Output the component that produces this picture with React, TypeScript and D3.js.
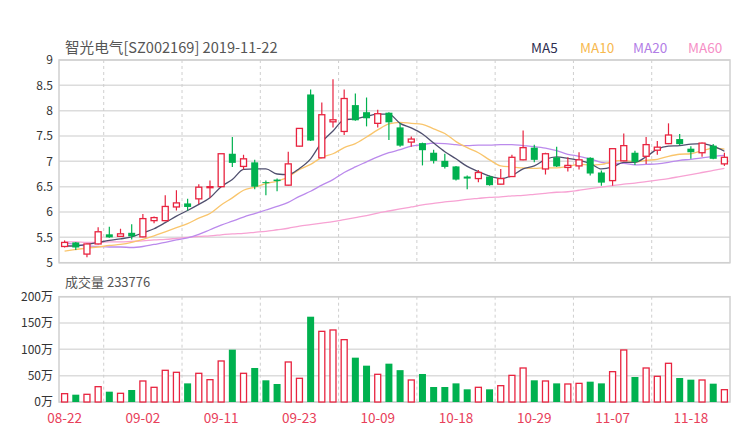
import React from 'react';
import * as d3 from 'd3';

// trading days shown in the chart (MM-DD)
const dates = [
  '08-22', '08-23', '08-26', '08-27', '08-28', '08-29', '08-30',
  '09-02', '09-03', '09-04', '09-05', '09-06', '09-09', '09-10', '09-11', '09-12',
  '09-16', '09-17', '09-18', '09-19', '09-20', '09-23', '09-24', '09-25', '09-26', '09-27', '09-30',
  '10-08', '10-09', '10-10', '10-11', '10-14', '10-15', '10-16', '10-17', '10-18',
  '10-21', '10-22', '10-23', '10-24', '10-25', '10-28', '10-29', '10-30', '10-31',
  '11-01', '11-04', '11-05', '11-06', '11-07', '11-08', '11-11', '11-12', '11-13', '11-14', '11-15',
  '11-18', '11-19', '11-20', '11-21',
];
const tickDates = ['08-22', '09-02', '09-11', '09-23', '10-09', '10-18', '10-29', '11-07', '11-18'];

const opens = [
  5.32, 5.40, 5.17, 5.37, 5.56, 5.52, 5.59, 5.51, 5.83, 5.83,
  6.10, 6.17, 6.26, 6.48, 6.50, 7.15, 6.90, 6.98, 6.59, 6.64,
  6.53, 7.30, 8.32, 7.07, 7.78, 7.59, 8.11, 7.97, 7.75, 7.96,
  7.67, 7.38, 7.36, 7.17, 7.01, 6.90, 6.70, 6.66, 6.70, 6.55,
  6.70, 7.03, 7.27, 6.85, 7.08, 6.88, 6.91, 7.07, 6.78, 6.62,
  7.01, 7.17, 7.10, 7.22, 7.35, 7.44, 7.25, 7.17, 7.31, 6.95,
];
const highs = [
  5.44, 5.41, 5.38, 5.70, 5.71, 5.67, 5.76, 5.96, 5.91, 6.33,
  6.43, 6.26, 6.55, 6.62, 7.15, 7.48, 7.13, 7.03, 6.62, 6.66,
  7.19, 7.65, 8.42, 8.16, 8.62, 8.42, 8.34, 8.26, 8.02, 7.97,
  7.75, 7.49, 7.37, 7.23, 7.15, 6.91, 6.72, 6.83, 6.72, 6.85,
  7.13, 7.61, 7.33, 7.17, 7.29, 7.08, 7.18, 7.08, 6.82, 7.25,
  7.55, 7.21, 7.48, 7.40, 7.75, 7.54, 7.30, 7.37, 7.34, 7.17,
];
const lows = [
  5.30, 5.25, 5.11, 5.36, 5.49, 5.51, 5.46, 5.50, 5.78, 5.82,
  6.03, 6.03, 6.16, 6.28, 6.50, 6.89, 6.84, 6.45, 6.33, 6.41,
  6.52, 7.29, 7.40, 7.06, 7.67, 7.52, 7.80, 7.69, 7.67, 7.42,
  7.29, 7.29, 6.92, 6.96, 6.86, 6.62, 6.45, 6.59, 6.52, 6.54,
  6.69, 7.02, 6.98, 6.74, 6.89, 6.80, 6.84, 6.72, 6.52, 6.52,
  7.00, 6.93, 6.95, 7.13, 7.34, 7.32, 7.05, 7.09, 7.04, 6.91,
];
const closes = [
  5.40, 5.30, 5.37, 5.61, 5.50, 5.57, 5.52, 5.87, 5.89, 6.11,
  6.18, 6.10, 6.49, 6.50, 7.15, 6.97, 7.05, 6.50, 6.57, 6.61,
  6.95, 7.65, 7.41, 7.92, 7.82, 8.24, 7.81, 7.85, 7.94, 7.77,
  7.31, 7.44, 7.22, 7.01, 6.89, 6.64, 6.66, 6.78, 6.53, 6.66,
  7.08, 7.27, 7.03, 7.15, 6.90, 6.92, 7.03, 6.76, 6.58, 7.25,
  7.31, 6.99, 7.33, 7.28, 7.52, 7.34, 7.18, 7.36, 7.05, 7.08,
];
// volume in 万 (10k)
const volumes = [
  15.8, 13.9, 14.6, 29.1, 19.6, 16.5, 22.8, 39.9, 27.9, 60.2,
  56.4, 35.4, 54.5, 42.4, 77.9, 99.4, 54.5, 64.6, 41.2, 34.2,
  76.0, 45.0, 162.0, 134.2, 136.8, 118.4, 84.2, 69.0, 52.6, 72.8,
  60.5, 41.8, 53.2, 28.5, 28.5, 35.4, 24.1, 27.9, 24.1, 31.0,
  50.6, 64.6, 41.2, 39.9, 35.4, 34.2, 35.4, 38.6, 35.4, 57.6,
  98.8, 47.5, 64.6, 48.8, 73.5, 45.6, 42.4, 41.8, 34.8, 23.4,
];

const ma5 = [
  5.33, 5.33, 5.36, 5.40, 5.44, 5.47, 5.51, 5.59, 5.67, 5.79,
  5.92, 6.03, 6.15, 6.28, 6.50, 6.64, 6.84, 6.85, 6.85, 6.75,
  6.74, 6.86, 7.05, 7.38, 7.60, 7.82, 7.84, 7.89, 7.93, 7.93,
  7.75, 7.66, 7.54, 7.36, 7.19, 7.05, 6.90, 6.80, 6.71, 6.66,
  6.72, 6.85, 6.91, 7.04, 7.09, 7.06, 7.02, 6.96, 6.85, 6.89,
  6.98, 6.98, 7.09, 7.24, 7.30, 7.31, 7.34, 7.35, 7.30, 7.20,
];
const ma10 = [
  5.23, 5.26, 5.29, 5.31, 5.34, 5.36, 5.40, 5.46, 5.53, 5.61,
  5.69, 5.77, 5.88, 5.97, 6.14, 6.28, 6.43, 6.49, 6.56, 6.61,
  6.69, 6.84, 6.94, 7.08, 7.15, 7.27, 7.35, 7.48, 7.62, 7.74,
  7.77, 7.75, 7.73, 7.64, 7.55, 7.39, 7.27, 7.17, 7.03, 6.91,
  6.89, 6.87, 6.86, 6.87, 6.87, 6.90, 6.94, 6.93, 6.94, 7.00,
  7.02, 6.99, 7.02, 7.04, 7.10, 7.14, 7.15, 7.21, 7.26, 7.24,
];
const ma20 = [
  5.39, 5.36, 5.33, 5.32, 5.31, 5.31, 5.30, 5.32, 5.36, 5.40,
  5.45, 5.49, 5.56, 5.65, 5.74, 5.82, 5.90, 5.97, 6.04, 6.11,
  6.19, 6.31, 6.41, 6.53, 6.64, 6.78, 6.89, 6.99, 7.09, 7.17,
  7.23, 7.30, 7.33, 7.36, 7.35, 7.33, 7.31, 7.32, 7.32, 7.33,
  7.33, 7.31, 7.29, 7.26, 7.21, 7.14, 7.10, 7.05, 6.98, 6.96,
  6.96, 6.93, 6.94, 6.95, 6.98, 7.02, 7.04, 7.07, 7.10, 7.12,
];
const ma60 = [
  5.41, 5.41, 5.40, 5.40, 5.41, 5.41, 5.42, 5.43, 5.45, 5.46,
  5.48, 5.50, 5.52, 5.53, 5.55, 5.57, 5.58, 5.60, 5.62, 5.65,
  5.68, 5.72, 5.75, 5.78, 5.81, 5.85, 5.89, 5.93, 5.98, 6.02,
  6.06, 6.10, 6.14, 6.17, 6.20, 6.22, 6.25, 6.27, 6.29, 6.30,
  6.32, 6.33, 6.35, 6.37, 6.39, 6.40, 6.43, 6.46, 6.49, 6.52,
  6.55, 6.57, 6.60, 6.63, 6.66, 6.70, 6.74, 6.78, 6.82, 6.86,
];

const priceTicks = [5, 5.5, 6, 6.5, 7, 7.5, 8, 8.5, 9];
const volTicks = [0, 50, 100, 150, 200];

const UP = '#e8233f';
const DOWN = '#00b14f';
const GRID = '#dcdcdc';
const FONT = '"Noto Sans CJK SC", "Noto Sans", sans-serif';

const maSeries = [
  { name: 'MA5', values: ma5, color: '#4f4f6e', legend: '#2e2e50', lx: 531 },
  { name: 'MA10', values: ma10, color: '#f9c56c', legend: '#f7b94e', lx: 580 },
  { name: 'MA20', values: ma20, color: '#bb8aec', legend: '#b27ee6', lx: 633 },
  { name: 'MA60', values: ma60, color: '#f7a2d3', legend: '#f68fc6', lx: 688 },
];

const left = 59;
const right = 730;

export default function App() {
  const x = d3.scaleBand<string>().domain(dates).range([left, right]).padding(0);
  const bw = x.bandwidth();
  const cx = (i: number) => (x(dates[i]) as number) + bw / 2;
  const y = d3.scaleLinear().domain([5, 9]).range([262.7, 60]);
  const yv = d3.scaleLinear().domain([0, 200]).range([402, 296.7]);
  const bodyW = 7;

  const line = d3.line<number>()
    .x((_, i) => cx(i))
    .y(d => y(d))
    .curve(d3.curveMonotoneX);

  // dashed verticals sit half way between the date labels
  const vGrid = tickDates
    .map(d => dates.indexOf(d) + 4)
    .filter(i => i < dates.length)
    .map(i => x(dates[i]) as number);

  const lastVol = 233776;

  return (
    <div style={{ position: 'absolute', left: 0, top: 0 }}>
      <svg width={740} height={440} style={{ display: 'block', fontFamily: FONT }}>
        <rect width={740} height={440} fill="#fff" />

        {/* header */}
        <text x={65} y={53} fontSize={14.6} fill="#555">智光电气[SZ002169] 2019-11-22</text>
        {maSeries.map(s => (
          <text key={s.name} x={s.lx} y={53} fontSize={13.5} fill={s.legend}>{s.name}</text>
        ))}

        {/* price panel grid */}
        {priceTicks.map(t => (
          <g key={'p' + t}>
            <line x1={left} x2={right} y1={y(t)} y2={y(t)} stroke={GRID} strokeWidth={1.5} />
            <text x={53} y={y(t)} dy="0.35em" textAnchor="end" fontSize={12} fill="#333">{String(t)}</text>
          </g>
        ))}
        {vGrid.map((gx, i) => (
          <line key={'vg' + i} x1={gx} x2={gx} y1={y(9)} y2={y(5)} stroke="#cfcfcf" strokeDasharray="3,3" />
        ))}
        <rect x={left} y={y(9)} width={right - left} height={y(5) - y(9)} fill="none" stroke="#d0d0d0" strokeWidth={1.5} />

        {/* moving averages */}
        {maSeries.slice().reverse().map(s => (
          <path key={s.name} d={line(s.values) || ''} fill="none" stroke={s.color} strokeWidth={1.3} />
        ))}

        {/* candles */}
        {dates.map((d, i) => {
          const up = closes[i] >= opens[i];
          const c = cx(i);
          const top = y(Math.max(opens[i], closes[i]));
          const bot = y(Math.min(opens[i], closes[i]));
          const h = Math.max(1, bot - top);
          if (up) {
            return (
              <g key={'c' + d}>
                <line x1={c} x2={c} y1={y(highs[i])} y2={top} stroke={UP} strokeWidth={1.2} />
                <line x1={c} x2={c} y1={top + h} y2={y(lows[i])} stroke={UP} strokeWidth={1.2} />
                <rect x={c - bodyW / 2 + 0.5} y={top} width={bodyW - 1} height={h} fill="#fff" stroke={UP} strokeWidth={1.3} />
              </g>
            );
          }
          return (
            <g key={'c' + d}>
              <line x1={c} x2={c} y1={y(highs[i])} y2={y(lows[i])} stroke={DOWN} strokeWidth={1.2} />
              <rect x={c - bodyW / 2} y={top} width={bodyW} height={h} fill={DOWN} />
            </g>
          );
        })}

        {/* volume panel */}
        <text x={65} y={287} fontSize={13} fill="#555">成交量 {lastVol}</text>
        {volTicks.map(t => (
          <g key={'v' + t}>
            <line x1={left} x2={right} y1={yv(t)} y2={yv(t)} stroke={GRID} strokeWidth={1.5} />
            <text x={53} y={yv(t)} dy="0.35em" textAnchor="end" fontSize={12} fill="#333">{t}万</text>
          </g>
        ))}
        {vGrid.map((gx, i) => (
          <line key={'vv' + i} x1={gx} x2={gx} y1={yv(200)} y2={yv(0)} stroke="#cfcfcf" strokeDasharray="3,3" />
        ))}
        <rect x={left} y={yv(200)} width={right - left} height={yv(0) - yv(200)} fill="none" stroke="#d0d0d0" strokeWidth={1.5} />
        {volumes.map((v, i) => {
          const up = closes[i] >= opens[i];
          const c = cx(i);
          const top = yv(v);
          const h = yv(0) - top;
          return up ? (
            <rect key={'vb' + i} x={c - bodyW / 2 + 0.5} y={top} width={bodyW - 1} height={h} fill="#fff" stroke={UP} strokeWidth={1.3} />
          ) : (
            <rect key={'vb' + i} x={c - bodyW / 2} y={top} width={bodyW} height={h} fill={DOWN} />
          );
        })}

        {/* date labels */}
        {tickDates.map(d => (
          <text key={'t' + d} x={cx(dates.indexOf(d))} y={423} textAnchor="middle" fontSize={13.5} fill="#e8405a">{d}</text>
        ))}
      </svg>
    </div>
  );
}
